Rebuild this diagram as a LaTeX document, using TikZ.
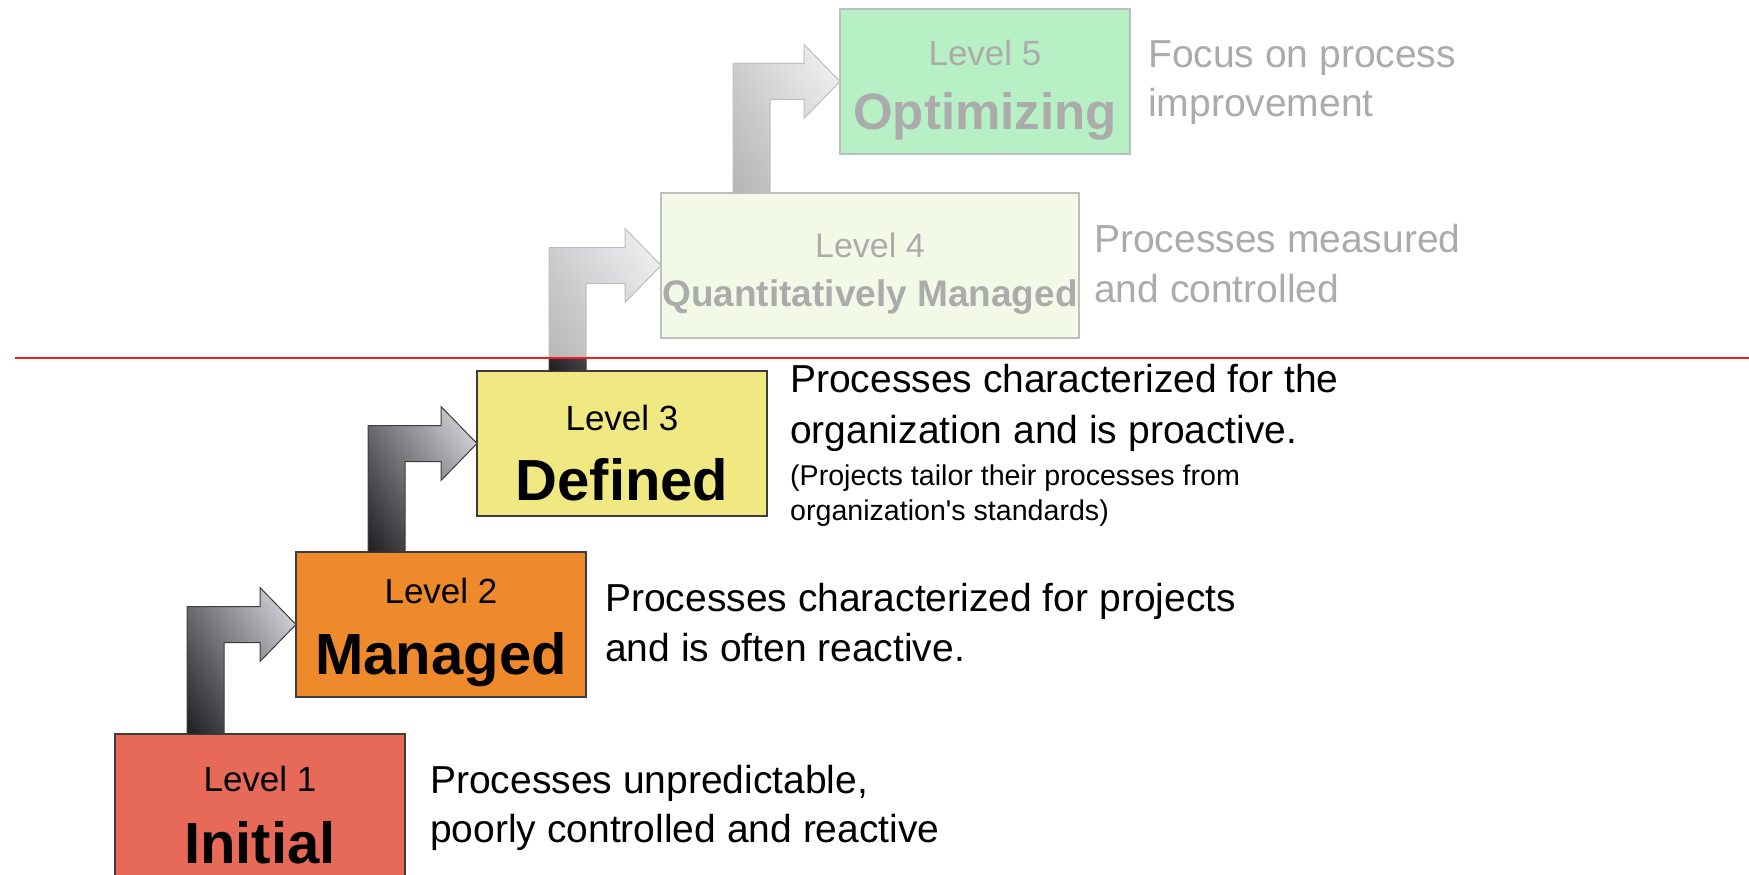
\documentclass[tikz,border=0pt]{standalone}
\usepackage{fontspec}
\setmainfont{Liberation Sans}[Ligatures=TeXOff]
\usetikzlibrary{calc,shadings}
\definecolor{c1}{RGB}{230,106,87}
\definecolor{c2}{RGB}{239,138,44}
\definecolor{c3}{RGB}{240,233,130}
\definecolor{c4}{RGB}{218,242,185}
\definecolor{c5}{RGB}{40,210,80}
\definecolor{bord}{RGB}{60,60,60}
\definecolor{arrdark}{RGB}{30,30,34}
\definecolor{arrmid}{RGB}{115,115,120}
\definecolor{arrmidb}{RGB}{130,130,136}
\definecolor{arrlight}{RGB}{230,230,236}
\definecolor{redline}{RGB}{240,30,30}
\newcommand{\stairarrow}[2]{%
  \path (#1.north west) ++(72,0) coordinate (#1sl) ++(37,0) coordinate (#1sr);
  \path (#2.west) ++(0,-18) coordinate (#2at) ++(0,36) coordinate (#2ab);
  \path (#2.west) ++(-36,-37) coordinate (#2ht) ++(0,74) coordinate (#2hb);
  \shadedraw[stairarrowst] (#1sl) -- (#1sl |- #2at) -- (#2ht |- #2at) -- (#2ht) -- (#2.west)
     -- (#2hb) -- (#2hb |- #2ab) -- (#1sr |- #2ab) -- (#1sr) -- cycle;
}
\begin{document}
\begin{tikzpicture}[x=1pt,y=-1pt,
  box/.style={draw=bord, line width=1.5pt, inner sep=0pt, outer sep=0pt,
    minimum width=290pt, minimum height=145pt, anchor=north west},
  lvl/.style={anchor=base, inner sep=0pt, font=\fontsize{35}{42}\selectfont},
  big/.style={anchor=base, inner sep=0pt, font=\fontsize{58}{70}\selectfont\bfseries},
  desc/.style={anchor=base west, inner sep=0pt, font=\fontsize{39}{50}\selectfont},
  small/.style={anchor=base west, inner sep=0pt, font=\fontsize{28.6}{36}\selectfont},
  stairarrowst/.style={draw=bord, line width=1pt, line join=miter,
    lower left=arrdark, upper left=arrmid, upper right=arrlight, lower right=arrmidb}
]
\useasboundingbox (0,0) rectangle (1749,875);
\begin{scope}
\clip (0,0) rectangle (1749,875);
% boxes
\node[box, fill=c1] (L1) at (115,734) {};
\node[box, fill=c2] (L2) at (296,552) {};
\node[box, fill=c3] (L3) at (477,371) {};
\node[box, fill=c4, minimum width=418pt] (L4) at (661,193) {};
\node[box, fill=c5] (L5) at (840,9) {};
% arrows
\stairarrow{L1}{L2}
\stairarrow{L2}{L3}
\stairarrow{L3}{L4}
\stairarrow{L4}{L5}
% box texts
\node[lvl] (L1a) at (L1.center |- 0,791) {Level 1};
\node[big] (L1b) at (L1.center |- 0,863) {Initial};
\node[lvl] (L2a) at (L2.center |- 0,603) {Level 2};
\node[big] (L2b) at (L2.center |- 0,674) {Managed};
\node[lvl] (L3a) at (L3.center |- 0,430) {Level 3};
\node[big] (L3b) at (L3.center |- 0,500) {Defined};
\node[lvl, font=\fontsize{34}{40}\selectfont] (L4a) at (L4.center |- 0,257) {Level 4};
\node[big, font=\fontsize{37}{44}\selectfont\bfseries] (L4b) at (L4.center |- 0,306) {Quantitatively Managed};
\node[lvl] (L5a) at (L5.center |- 0,66) {Level 5};
\node[big, font=\fontsize{51}{60}\selectfont\bfseries] (L5b) at (L5.center |- 0,129) {Optimizing};
% descriptions
\node[desc] (D1a) at (430,793) {Processes unpredictable,};
\node[desc] (D1b) at (430,842) {poorly controlled and reactive};
\node[desc] (D2a) at (605,611) {Processes characterized for projects};
\node[desc] (D2b) at (605,661) {and is often reactive.};
\node[desc] (D3a) at (790,392) {Processes characterized for the};
\node[desc] (D3b) at (790,443) {organization and is proactive.};
\node[small] (D3c) at (790,485) {(Projects tailor their processes from};
\node[small] (D3d) at (790,520) {organization's standards)};
\node[desc] (D4a) at (1094,252) {Processes measured};
\node[desc] (D4b) at (1094,302) {and controlled};
\node[desc] (D5a) at (1148,67) {Focus on process};
\node[desc] (D5b) at (1148,116) {improvement};
% fading overlay above the line
\fill[white, opacity=0.67] (0,0) rectangle (1749,358);
\coordinate (rl) at (15,358);
\coordinate (rr) at (1749,358);
\draw[redline, line width=1.8pt] (rl) -- (rr);
\end{scope}
\end{tikzpicture}
\end{document}
